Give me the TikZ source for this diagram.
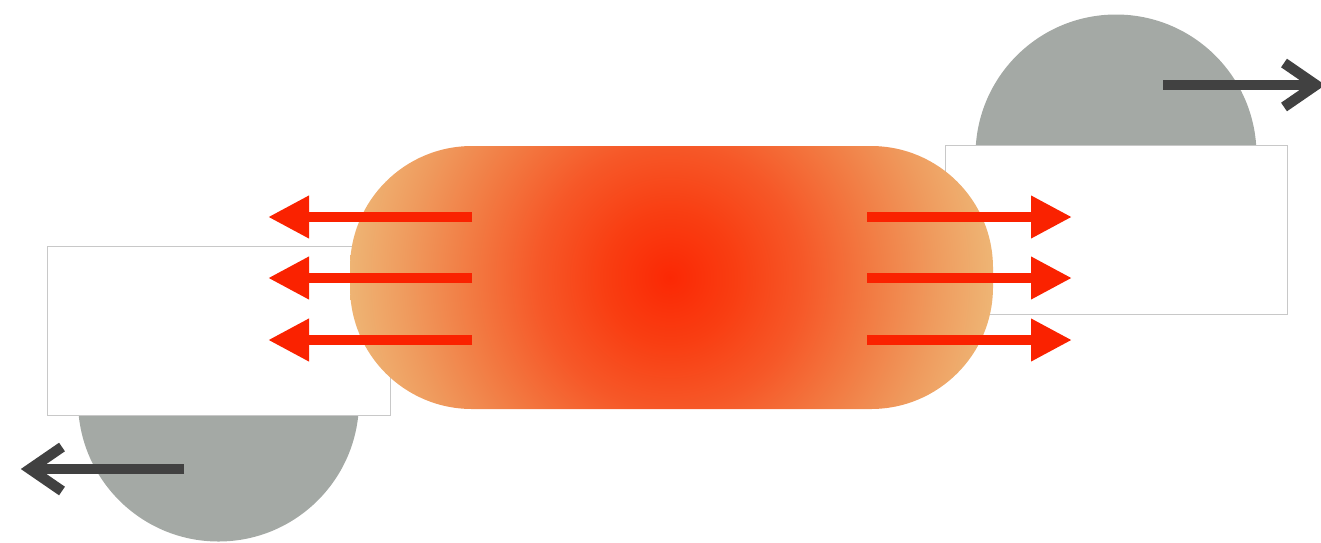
\documentclass[tikz,border=0pt]{standalone}
\usetikzlibrary{arrows.meta}
\definecolor{arrowred}{RGB}{250,34,0}
\definecolor{domegray}{RGB}{164,169,165}
\definecolor{darkarrow}{RGB}{65,65,65}
\definecolor{boxline}{RGB}{200,200,200}
\definecolor{g0}{RGB}{251,40,4}
\definecolor{g1}{RGB}{249,62,18}
\definecolor{g2}{RGB}{246,88,40}
\definecolor{g3}{RGB}{242,122,66}
\definecolor{g4}{RGB}{239,155,94}
\definecolor{g5}{RGB}{238,185,120}
\pgfdeclareradialshading{glow}{\pgfpoint{0bp}{0bp}}{color(0bp)=(g0); color(5bp)=(g1); color(10bp)=(g2); color(15bp)=(g3); color(20bp)=(g4); color(25bp)=(g5); color(50bp)=(g5)}
\tikzset{
  dome/.style={circle, fill=domegray, draw=none, inner sep=0pt, minimum size=140.5pt},
  whitebox/.style={rectangle, fill=white, draw=boxline, line width=0.5pt, inner sep=0pt},
  redarrow/.style={draw=arrowred, line width=5pt, line cap=butt, -{Triangle[length=20.5pt,width=20pt]}},
  darkshaft/.style={draw=darkarrow, line width=5.2pt, line cap=butt},
  chevron/.style={draw=darkarrow, line width=5.2pt, line cap=butt, line join=miter}
}
\begin{document}
\begin{tikzpicture}[x=0.5pt,y=-0.5pt]
\useasboundingbox (0,0) rectangle (1321,542);
% grey domes
\node[dome] (ldome) at (218.5,401) {};
\node[dome] (rdome) at (1116,155) {};
% white boxes
\node[whitebox, minimum width=171.5pt, minimum height=84.5pt] (lbox) at (218.5,330.5) {};
\node[whitebox, minimum width=171pt, minimum height=84.5pt] (rbox) at (1116,229.5) {};
% glowing blob
\node[rounded corners=61pt, inner sep=0pt, minimum width=321.5pt, minimum height=131.5pt,
  path picture={\shade[shading=glow] ([xshift=-0.75pt]path picture bounding box.center) circle (166pt);}] (blob) at (671.5,277.5) {};
% red arrows
\coordinate (l1s) at (472,217); \coordinate (l1e) at (268,217);
\coordinate (l2s) at (472,278); \coordinate (l2e) at (268,278);
\coordinate (l3s) at (472,340); \coordinate (l3e) at (268,340);
\coordinate (r1s) at (867,217); \coordinate (r1e) at (1072,217);
\coordinate (r2s) at (867,278); \coordinate (r2e) at (1072,278);
\coordinate (r3s) at (867,340); \coordinate (r3e) at (1072,340);
\draw[redarrow] (l1s) -- (l1e);
\draw[redarrow] (l2s) -- (l2e);
\draw[redarrow] (l3s) -- (l3e);
\draw[redarrow] (r1s) -- (r1e);
\draw[redarrow] (r2s) -- (r2e);
\draw[redarrow] (r3s) -- (r3e);
% dark arrows
\coordinate (ds) at (184,469); \coordinate (dt) at (30,469);
\draw[darkshaft] (ds) -- ([xshift=2pt]dt);
\draw[chevron] ([shift={(32,-22)}]dt) -- (dt) -- ([shift={(32,22)}]dt);
\coordinate (es) at (1163,85); \coordinate (et) at (1316,85);
\draw[darkshaft] (es) -- ([xshift=-2pt]et);
\draw[chevron] ([shift={(-32,-22)}]et) -- (et) -- ([shift={(-32,22)}]et);
\end{tikzpicture}
\end{document}
